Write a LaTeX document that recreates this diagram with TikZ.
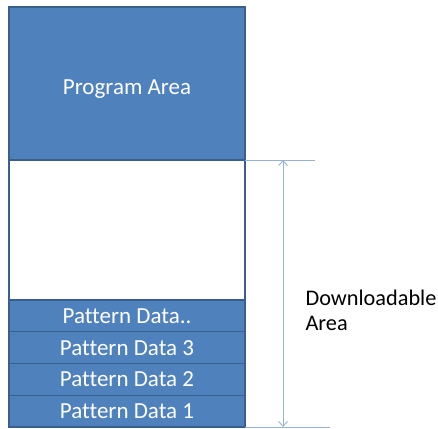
\documentclass[tikz,border=0pt]{standalone}
\usepackage{fontspec}
\setmainfont{Carlito}[Ligatures=NoCommon]
\usetikzlibrary{arrows.meta,positioning}
\definecolor{areablue}{HTML}{4F81BD}
\definecolor{areaedge}{HTML}{3A5F8C}
\definecolor{dimblue}{HTML}{95B3D7}

\begin{document}
\begin{tikzpicture}[x=1pt,y=-1pt,node distance=0pt,>={Straight Barb[length=5pt,width=9pt]},
area/.style={draw=areaedge,line width=1.4pt,fill=areablue,text=white,minimum width=236pt,inner sep=0pt,outer sep=0pt,font=\fontsize{23}{27}\selectfont},
slot/.style={area,minimum height=31.75pt}]
\useasboundingbox (0,0) rectangle (438,428);
\node[area,minimum height=153pt,anchor=north west,text height=26pt,text depth=5pt] (prog) at (9,7) {Program Area};
\node[area,fill=white,minimum height=140pt,below=of prog] (free) {};
\node[slot,below=of free] (pd) {Pattern Data..};
\node[slot,below=of pd] (p3) {Pattern Data 3};
\node[slot,below=of p3] (p2) {Pattern Data 2};
\node[slot,below=of p2] (p1) {Pattern Data 1};
\coordinate (topend) at (315,160);
\coordinate (botend) at (330,427);
\coordinate (dtop) at (283,160);
\coordinate (dbot) at (283,427);
\draw[dimblue,line width=0.9pt] (prog.south east)--(topend);
\draw[dimblue,line width=0.9pt] (p1.south east)--(botend);
\draw[dimblue,line width=0.9pt,<->] (dtop)--(dbot);
\node[anchor=west,align=left,font=\fontsize{22.3}{25}\selectfont] (dl) at (302,310) {Downloadable\\Area};
\end{tikzpicture}
\end{document}
